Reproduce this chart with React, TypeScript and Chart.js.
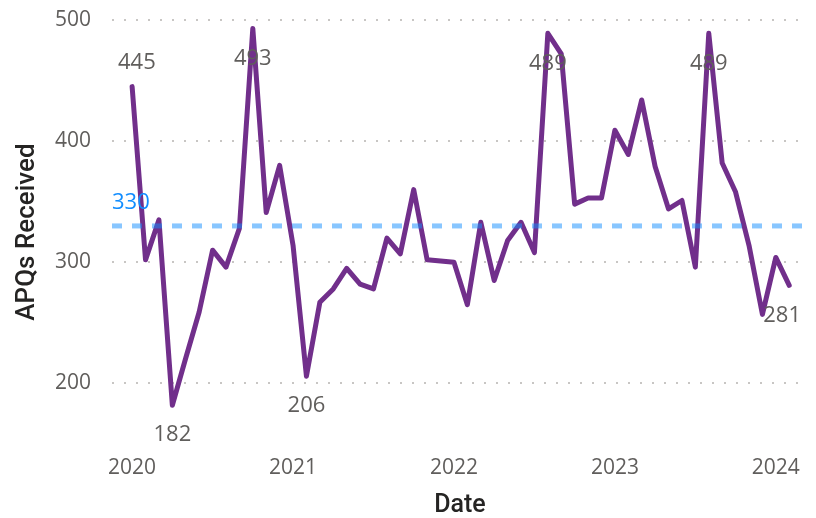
import React, { useEffect, useRef } from 'react';
import Chart from 'chart.js/auto';

const MONTHS = [
  '2020-01', '2020-02', '2020-03', '2020-04', '2020-05', '2020-06',
  '2020-07', '2020-08', '2020-09', '2020-10', '2020-11', '2020-12',
  '2021-01', '2021-02', '2021-03', '2021-04', '2021-05', '2021-06',
  '2021-07', '2021-08', '2021-09', '2021-10', '2021-11', '2021-12',
  '2022-01', '2022-02', '2022-03', '2022-04', '2022-05', '2022-06',
  '2022-07', '2022-08', '2022-09', '2022-10', '2022-11', '2022-12',
  '2023-01', '2023-02', '2023-03', '2023-04', '2023-05', '2023-06',
  '2023-07', '2023-08', '2023-09', '2023-10', '2023-11', '2023-12',
  '2024-01', '2024-02',
];

const APQS = [
  445, 302, 335, 182, 221, 259, 310, 296, 328, 493, 341, 380,
  314, 206, 267, 278, 295, 282, 278, 320, 307, 360, 302, 301,
  300, 265, 333, 285, 318, 333, 308, 489, 472, 348, 353, 353,
  409, 389, 434, 379, 344, 351, 296, 489, 382, 358, 314, 257,
  304, 281,
];

const AVERAGE = 330;
const Y_TICKS = [200, 300, 400, 500];
const LABELED_POINTS = [0, 3, 9, 13, 31, 43, 49];
const X_TITLE = 'Date';
const Y_TITLE = 'APQs Received';

const TICK_FONT = '"Open Sans", "Noto Sans", sans-serif';
const TITLE_FONT = 'Roboto, "Noto Sans", sans-serif';
const GRAY = '#605E5C';

const X_MIN = -1.5;
const X_MAX = 50.4;

const labelPlugin = {
  id: 'pointLabels',
  afterDatasetsDraw(chart: any) {
    const { ctx, chartArea } = chart;
    const meta = chart.getDatasetMeta(1);
    ctx.save();
    ctx.font = `22px ${TICK_FONT}`;
    ctx.fillStyle = GRAY;
    ctx.textAlign = 'center';
    ctx.textBaseline = 'middle';
    LABELED_POINTS.forEach((i) => {
      const pt = meta.data[i];
      if (!pt) return;
      const text = String(APQS[i]);
      const w = ctx.measureText(text).width;
      const above = i === 0;
      let x = pt.x;
      const y = above ? pt.y - 24 : pt.y + 30;
      x = Math.min(Math.max(x, chartArea.left + 6 + w / 2), chartArea.right - 7 - w / 2);
      ctx.fillText(text, x, y);
    });
    const ay = chart.scales.y.getPixelForValue(AVERAGE);
    ctx.fillStyle = '#118DFF';
    ctx.textAlign = 'left';
    ctx.fillText(String(AVERAGE), chartArea.left, ay - 23);
    ctx.restore();
  },
};

export default function App() {
  const ref = useRef<HTMLCanvasElement | null>(null);

  useEffect(() => {
    document.body.style.margin = '0';
    const canvas = ref.current;
    if (!canvas) return;
    const chart = new Chart(canvas, {
      type: 'line',
      data: {
        datasets: [
          {
            label: 'Average',
            data: [
              { x: X_MIN, y: AVERAGE },
              { x: X_MAX, y: AVERAGE },
            ],
            borderColor: 'rgba(17,141,255,0.5)',
            borderWidth: 5,
            borderDash: [10, 10],
            borderCapStyle: 'butt',
            pointRadius: 0,
            order: 0,
          },
          {
            label: Y_TITLE,
            data: MONTHS.map((m, i) => ({ x: i, y: APQS[i] })),
            borderColor: '#712F8B',
            borderWidth: 5,
            borderCapStyle: 'round',
            borderJoinStyle: 'round',
            tension: 0,
            pointRadius: 0,
            order: 1,
          },
        ],
      },
      options: {
        animation: false,
        responsive: false,
        devicePixelRatio: 1,
        layout: { padding: { top: 20, right: 8, left: 0, bottom: 0 } },
        plugins: {
          legend: { display: false },
          tooltip: { enabled: false },
        },
        scales: {
          x: {
            type: 'linear',
            min: X_MIN,
            max: X_MAX,
            afterBuildTicks: (scale: any) => {
              scale.ticks = MONTHS.map((m, i) => (m.endsWith('-01') ? { value: i } : null)).filter(Boolean);
            },
            afterFit: (scale: any) => {
              scale.height = 74;
              scale.paddingLeft = 0;
              scale.paddingRight = 0;
            },
            ticks: {
              autoSkip: false,
              maxRotation: 0,
              padding: 11,
              color: GRAY,
              font: { family: TICK_FONT, size: 21 },
              callback: (v: any) => {
                const m = MONTHS[Math.round(Number(v))];
                return m ? m.slice(0, 4) : '';
              },
            },
            grid: { display: false, drawTicks: false },
            border: { display: false },
            title: {
              display: true,
              text: X_TITLE,
              color: '#252423',
              font: { family: TITLE_FONT, size: 25, weight: '500', lineHeight: 1 },
              padding: { top: 0, bottom: 0 },
            },
          },
          y: {
            type: 'linear',
            min: 150,
            max: 500,
            afterBuildTicks: (scale: any) => {
              scale.ticks = Y_TICKS.map((v) => ({ value: v }));
            },
            afterFit: (scale: any) => {
              scale.width = 112;
              scale.paddingTop = 0;
              scale.paddingBottom = 0;
            },
            ticks: {
              padding: 21,
              color: GRAY,
              font: { family: TICK_FONT, size: 21 },
            },
            grid: {
              drawTicks: false,
              color: '#C8C6C4',
              lineWidth: 2,
            },
            border: { display: false, dash: [2, 10] },
            title: {
              display: true,
              text: Y_TITLE,
              color: '#252423',
              font: { family: TITLE_FONT, size: 26, weight: '500', lineHeight: 1 },
              padding: { top: 14, bottom: 0 },
            },
          },
        },
      },
      plugins: [labelPlugin],
    } as any);
    return () => chart.destroy();
  }, []);

  return (
    <div style={{ position: 'absolute', left: 0, top: 0, width: 816, height: 518, background: '#fff' }}>
      <canvas ref={ref} width={816} height={518} style={{ display: 'block' }} />
    </div>
  );
}
